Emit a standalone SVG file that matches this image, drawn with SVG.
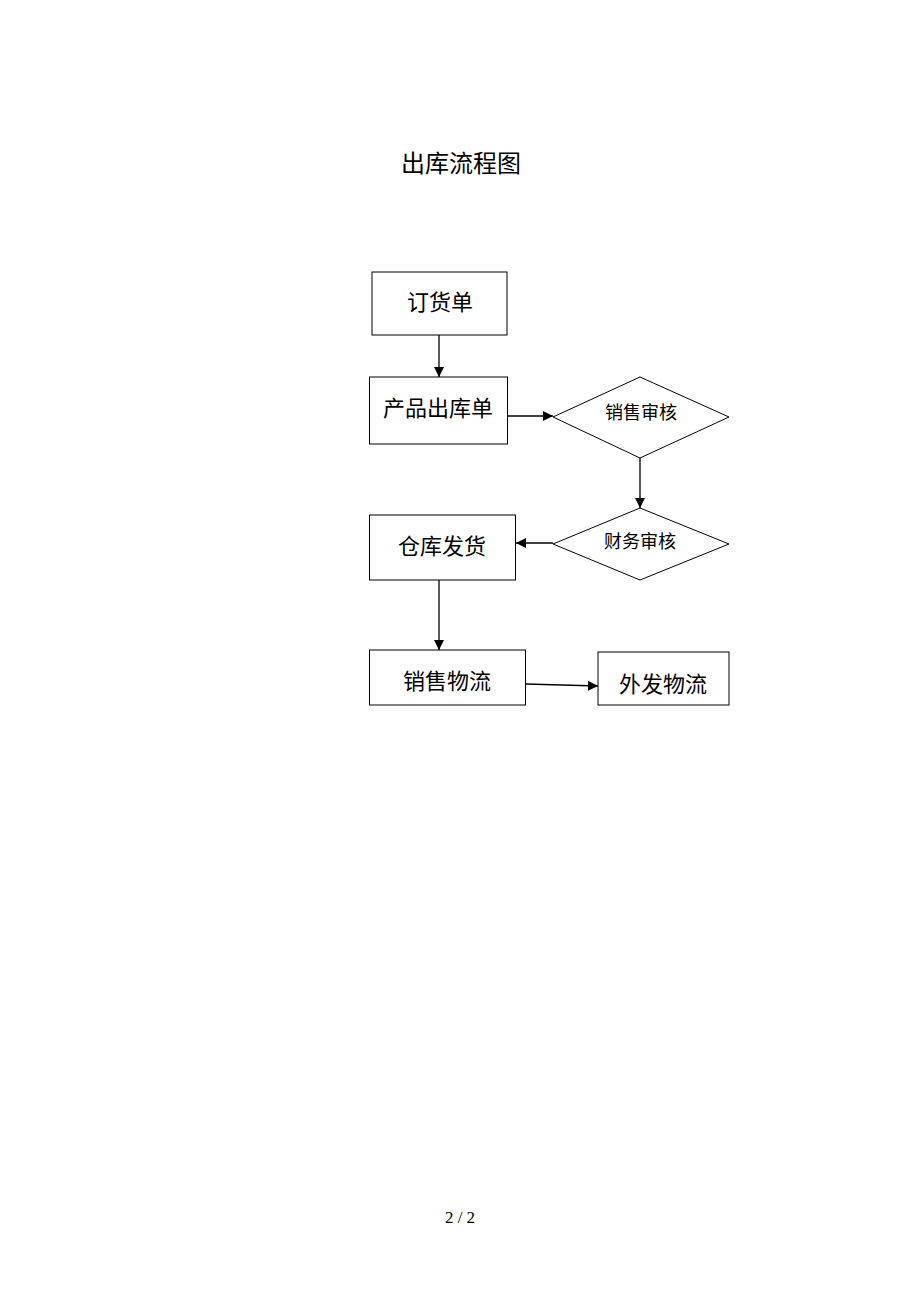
<svg xmlns="http://www.w3.org/2000/svg" width="920" height="1302" viewBox="0 0 920 1302">
<style>
.box{fill:#fff;stroke:#000;stroke-width:1}
.t{font-family:"Liberation Sans","Noto Sans CJK SC",sans-serif;fill:#000;text-anchor:middle;dominant-baseline:central}
.big{font-size:22px}
.small{font-size:18px}
.edge{stroke:#000;stroke-width:1.3;fill:none;marker-end:url(#ah)}
</style>
<defs>
<marker id="ah" viewBox="0 0 10 10" refX="10" refY="5" markerWidth="10" markerHeight="10" markerUnits="userSpaceOnUse" orient="auto">
<path d="M0,0 L10,5 L0,10 z" fill="#000"/>
</marker>
</defs>
<rect width="920" height="1302" fill="#fff"/>
<text class="t" x="461" y="163" style="font-size:24px">出库流程图</text>
<g id="n1"><rect class="box" x="372" y="272" width="135" height="63"/><text class="t big" x="440" y="302">订货单</text></g>
<g id="n2"><rect class="box" x="369.5" y="377" width="138" height="67"/><text class="t big" x="438" y="408">产品出库单</text></g>
<g id="n3"><polygon class="box" points="553,417 640,377 729,417 640,458"/><text class="t small" x="641" y="413">销售审核</text></g>
<g id="n4"><polygon class="box" points="553,544 640,508 729,544 640,580"/><text class="t small" x="640" y="542">财务审核</text></g>
<g id="n5"><rect class="box" x="369.5" y="515" width="146" height="65"/><text class="t big" x="442" y="546">仓库发货</text></g>
<g id="n6"><rect class="box" x="369.5" y="650" width="156" height="55"/><text class="t big" x="447" y="681">销售物流</text></g>
<g id="n7"><rect class="box" x="598" y="652" width="131" height="53"/><text class="t big" x="663" y="684">外发物流</text></g>
<g id="edges">
<line class="edge" x1="439" y1="335" x2="439" y2="377"/>
<line class="edge" x1="507.5" y1="416" x2="553" y2="416"/>
<line class="edge" x1="640" y1="458" x2="640" y2="508"/>
<line class="edge" x1="553" y1="543" x2="516" y2="543"/>
<line class="edge" x1="439" y1="580" x2="439" y2="650"/>
<line class="edge" x1="526" y1="684" x2="598" y2="686"/>
</g>
<text x="460" y="1217" style="font-family:'Liberation Serif',serif;font-size:17px;fill:#000;text-anchor:middle;dominant-baseline:central">2 / 2</text>
</svg>
